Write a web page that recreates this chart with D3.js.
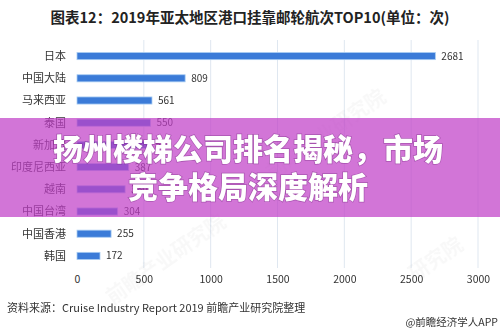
<!DOCTYPE html>
<html><head><meta charset="utf-8">
<script src="https://cdn.jsdelivr.net/npm/d3@7/dist/d3.min.js"></script>
<style>html,body{margin:0;padding:0;background:#fff;}svg{display:block;}</style>
</head><body>
<script>
const categories = ["日本","中国大陆","马来西亚","泰国","新加坡","印度尼西亚","越南","中国台湾","中国香港","韩国"];
const values = [2681, 809, 561, 550, 540, 387, 360, 304, 255, 172];
const xTicks = [0, 500, 1000, 1500, 2000, 2500, 3000];
const titleText = "图表12：2019年亚太地区港口挂靠邮轮航次TOP10(单位：次)";
const sourceText = "资料来源：Cruise Industry Report 2019 前瞻产业研究院整理";
const creditText = "@前瞻经济学人APP";
const bannerLines = ["扬州楼梯公司排名揭秘，市场", "竞争格局深度解析"];

const W = 500, H = 336;
const font = "'Microsoft YaHei','Noto Sans CJK SC','Noto Sans',sans-serif";
const svg = d3.select("body").append("svg").attr("width", W).attr("height", H)
  .style("font-family", font);
svg.append("rect").attr("width", W).attr("height", H).attr("fill", "#fff");

const x = d3.scaleLinear().domain([0, 3000]).range([77, 478]);
const y = d3.scaleBand().domain(categories).range([45, 267]).paddingInner(0.68).paddingOuter(0.34);

// title
svg.append("text").attr("x", 250).attr("y", 23).attr("text-anchor", "middle")
  .attr("font-size", 14.5).attr("font-weight", "bold").attr("fill", "#222").text(titleText);

// gridlines
svg.append("g").selectAll("line").data(xTicks.filter(d => d > 0)).join("line")
  .attr("x1", d => x(d)).attr("x2", d => x(d)).attr("y1", 40).attr("y2", 268)
  .attr("stroke", "#dfe7f0").attr("stroke-width", 1);

// watermark
const wm = svg.append("g").attr("fill", "#000").attr("opacity", 0.03).attr("font-size", 20).attr("font-weight", "bold");
wm.append("text").attr("transform", "translate(330,140) rotate(-35)").attr("text-anchor", "middle").text("前瞻产业研究院");
wm.append("text").attr("transform", "translate(170,265) rotate(-35)").attr("text-anchor", "middle").text("前瞻产业研究院");
wm.append("text").attr("transform", "translate(440,265) rotate(-35)").attr("text-anchor", "middle").text("研究院");

// bars
svg.append("g").selectAll("rect").data(categories).join("rect")
  .attr("x", x(0)).attr("y", d => y(d))
  .attr("width", (d, i) => x(values[i]) - x(0)).attr("height", y.bandwidth())
  .attr("fill", "#3b7bd8").attr("stroke", "#a9cdf3").attr("stroke-width", 0.8);

// value labels
svg.append("g").selectAll("text").data(categories).join("text")
  .attr("x", (d, i) => x(values[i]) + 6).attr("y", d => y(d) + y.bandwidth() / 2)
  .attr("dy", "0.35em").attr("font-size", 10).attr("fill", "#333")
  .text((d, i) => values[i]);

// category labels
svg.append("g").selectAll("text").data(categories).join("text")
  .attr("x", 66).attr("y", d => y(d) + y.bandwidth() / 2)
  .attr("dy", "0.35em").attr("text-anchor", "end").attr("font-size", 11).attr("fill", "#333")
  .text(d => d);

// x axis
const ax = svg.append("g").attr("transform", "translate(0,272)")
  .call(d3.axisBottom(x).tickValues(xTicks).tickFormat(d3.format("d")).tickSize(0).tickPadding(4));
ax.select(".domain").remove();
ax.selectAll("text").attr("font-size", 10.5).attr("fill", "#333").style("font-family", font);

// source
svg.append("text").attr("x", 7).attr("y", 312).attr("font-size", 11).attr("fill", "#333").text(sourceText);
svg.append("text").attr("x", 498).attr("y", 326).attr("text-anchor", "end").attr("font-size", 10.5).attr("fill", "#333").text(creditText);

// banner overlay
svg.append("rect").attr("x", 0).attr("y", 118).attr("width", W).attr("height", 99)
  .attr("fill", "#c040c8").attr("opacity", 0.72);
svg.append("g").selectAll("text").data(bannerLines).join("text")
  .attr("x", 248).attr("y", (d, i) => 160 + i * 38).attr("text-anchor", "middle")
  .attr("font-size", 30).attr("font-weight", 900).attr("fill", "#fff")
  .style("font-family", "'Noto Sans CJK SC',sans-serif")
  .style("paint-order", "stroke").attr("stroke", "rgba(90,20,100,0.35)").attr("stroke-width", 1.5)
  .text(d => d);
</script>
</body></html>
